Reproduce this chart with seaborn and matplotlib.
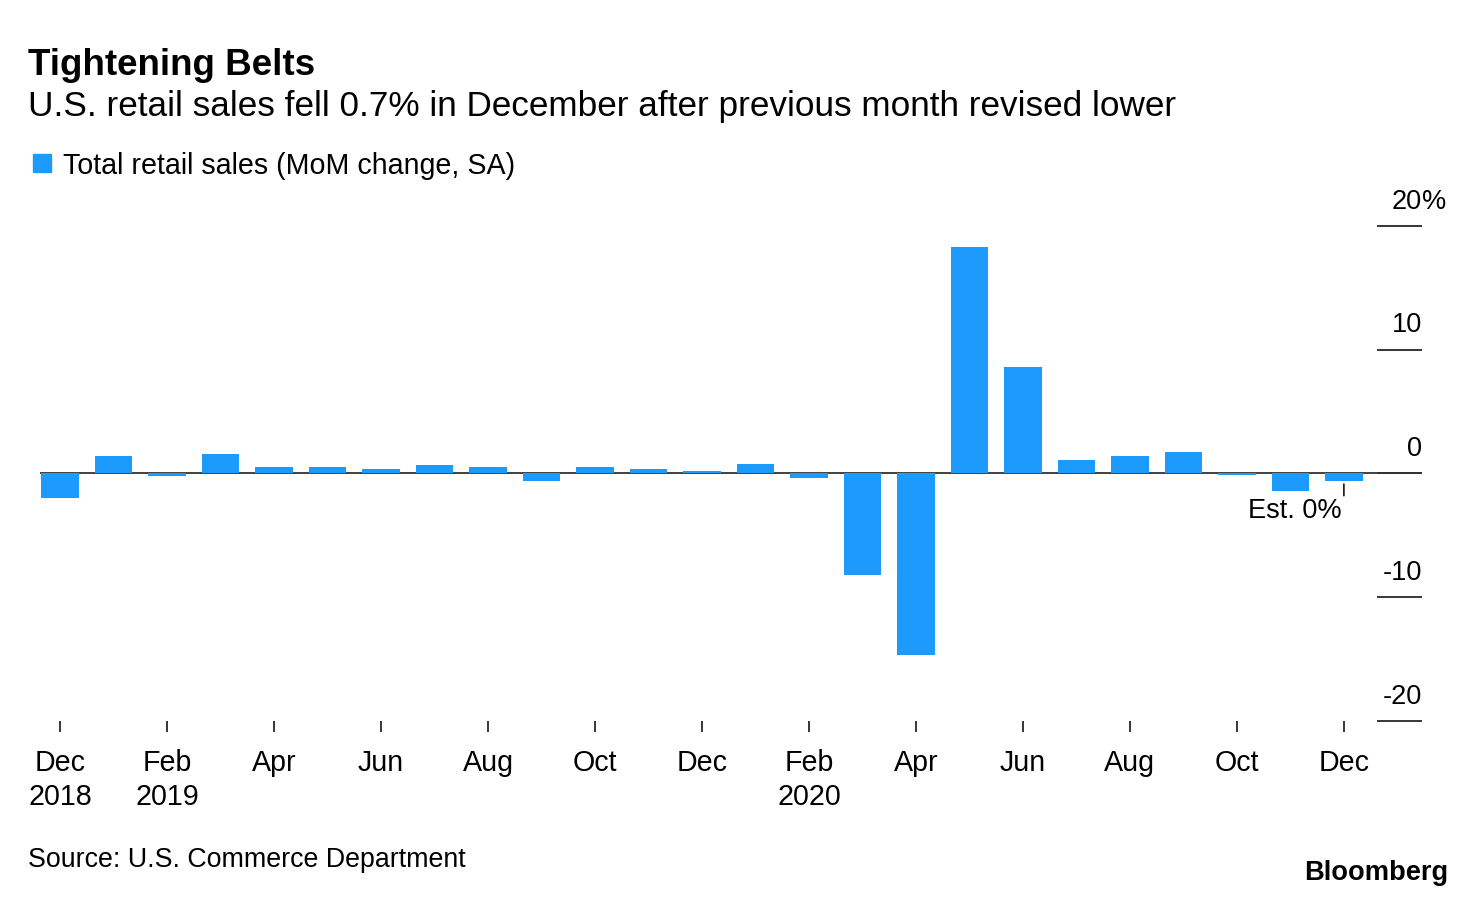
import matplotlib
matplotlib.use("Agg")
import matplotlib.pyplot as plt
import seaborn as sns
import pandas as pd

months = ["Dec 2018", "Jan 2019", "Feb 2019", "Mar 2019", "Apr 2019", "May 2019",
          "Jun 2019", "Jul 2019", "Aug 2019", "Sep 2019", "Oct 2019", "Nov 2019",
          "Dec 2019", "Jan 2020", "Feb 2020", "Mar 2020", "Apr 2020", "May 2020",
          "Jun 2020", "Jul 2020", "Aug 2020", "Sep 2020", "Oct 2020", "Nov 2020",
          "Dec 2020"]
values = [-2.0, 1.45, -0.2, 1.6, 0.5, 0.5, 0.33, 0.68, 0.5, -0.6, 0.5, 0.33,
          0.17, 0.8, -0.4, -8.2, -14.7, 18.3, 8.6, 1.1, 1.45, 1.75, -0.1, -1.4,
          -0.6]
xtick_labels = ["Dec\n2018", "Feb\n2019", "Apr", "Jun", "Aug", "Oct", "Dec",
                "Feb\n2020", "Apr", "Jun", "Aug", "Oct", "Dec"]
ytick_values = [20, 10, 0, -10, -20]
ytick_labels = ["20", "10", "0", "-10", "-20"]
estimate_label = "Est. 0%"

BLUE = "#1d9bfd"
FONT = "Liberation Sans"

sns.set_theme(style="white")
plt.rcParams["font.family"] = [FONT, "DejaVu Sans"]

df = pd.DataFrame({"month": months, "value": values})

W, H = 1476, 898
fig = plt.figure(figsize=(W / 100, H / 100), dpi=100)
ax_left, ax_right = 40 / W, 1422 / W
ax_bottom_px, ax_top_px = 721, 213.6
ax = fig.add_axes([ax_left, 1 - ax_bottom_px / H, ax_right - ax_left,
                   (ax_bottom_px - ax_top_px) / H])

sns.barplot(data=df, x="month", y="value", color=BLUE, saturation=1,
            width=0.7, linewidth=0, edgecolor="none", ax=ax, zorder=2)
ax.axhline(0, color="#333333", lw=1.3, zorder=1)

ax.set_xlim(-0.374, 25.46)
ax.set_ylim(-20, 21)
for s in ax.spines.values():
    s.set_visible(False)
ax.set_xlabel("")
ax.set_ylabel("")

tick_pos = list(range(0, len(months), 2))
ax.set_xticks(tick_pos)
ax.set_xticklabels(xtick_labels, fontsize=20.6, color="black", linespacing=1.25)
ax.tick_params(axis="x", bottom=True, direction="out", length=8, width=1.1,
               color="black", pad=12.5)

ax.yaxis.tick_right()
ax.set_yticks(ytick_values)
ax.set_yticklabels([])
ax.tick_params(axis="y", right=True, left=False, direction="in", length=32.5,
               width=1.1, color="black")
for v, lab in zip(ytick_values, ytick_labels):
    ax.annotate(lab, xy=(1, v), xycoords=("axes fraction", "data"),
                xytext=(0, 12.5), textcoords="offset points", ha="right",
                va="baseline", fontsize=19.5, color="black")
    if v == max(ytick_values):
        ax.annotate("%", xy=(1, v), xycoords=("axes fraction", "data"),
                    xytext=(0, 12.5), textcoords="offset points", ha="left",
                    va="baseline", fontsize=19.5, color="black")

# Estimate marker for the latest month
last = len(months) - 1
ax.annotate("", xy=(last, -0.85), xytext=(last, -1.8),
            arrowprops=dict(arrowstyle="-", color="black", lw=1.1,
                            shrinkA=0, shrinkB=0))
ax.annotate(estimate_label, xy=(last, -1.8), xytext=(-1.5, -16),
            textcoords="offset points", ha="right", va="baseline",
            fontsize=19.5, color="black")

fig.text(28 / W, 1 - 75 / H, "Tightening Belts", fontsize=26.5,
         fontweight="bold", ha="left", va="baseline", color="black")
fig.text(28 / W, 1 - 116 / H,
         "U.S. retail sales fell 0.7% in December after previous month revised lower",
         fontsize=25.3, ha="left", va="baseline", color="black")
fig.patches.append(plt.Rectangle((33 / W, 1 - 172 / H), 18 / W, 18 / H,
                                 transform=fig.transFigure, color=BLUE))
fig.text(63 / W, 1 - 174 / H, "Total retail sales (MoM change, SA)",
         fontsize=20.6, ha="left", va="baseline", color="black")
fig.text(28 / W, 1 - 867 / H, "Source: U.S. Commerce Department",
         fontsize=19.3, ha="left", va="baseline", color="black")
fig.text(1448 / W, 1 - 880 / H, "Bloomberg", fontsize=19.6, fontweight="bold",
         ha="right", va="baseline", color="black")

fig.savefig("out.png", dpi=100)
